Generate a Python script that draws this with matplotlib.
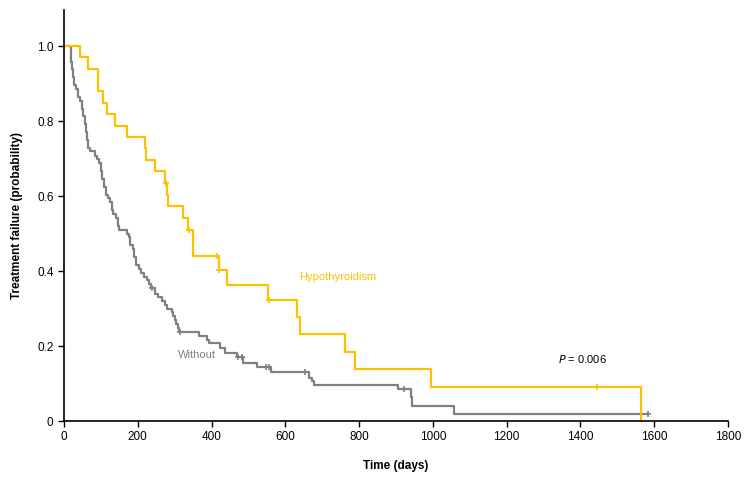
import numpy as np
import matplotlib
matplotlib.use("Agg")
import matplotlib.pyplot as plt

plt.rcParams["font.family"] = ["Liberation Sans", "DejaVu Sans"]

# ---- data ----
# Hypothyroidism group: event times (days) and survival level after each step
hypo_t = [0, 43, 64, 91, 107, 116, 138, 170, 220, 222, 247, 274, 279, 283,
          323, 335, 350, 419, 441, 553, 633, 640, 763, 790, 994, 1563]
hypo_s = [1.0, 0.970, 0.939, 0.879, 0.848, 0.818, 0.788, 0.758, 0.727, 0.697,
          0.667, 0.636, 0.604, 0.573, 0.541, 0.509, 0.441, 0.404, 0.363,
          0.323, 0.277, 0.231, 0.185, 0.139, 0.092, 0.0]
hypo_cens_t = [276, 338, 414, 421, 556, 1444]
hypo_cens_s = [0.636, 0.509, 0.441, 0.404, 0.323, 0.092]

# Without group
wo_t = [0, 18, 20, 22, 24, 28, 33, 38, 44, 48, 52, 56, 59, 62, 66, 70, 84,
        90, 96, 100, 104, 109, 113, 119, 124, 129, 134, 140, 146, 150, 170,
        175, 180, 186, 190, 195, 203, 210, 218, 225, 231, 235, 246, 256, 265,
        274, 280, 292, 296, 300, 305, 310, 313, 365, 388, 393, 423, 436, 470,
        486, 522, 561, 665, 671, 678, 906, 940, 944, 1057]
wo_s = [1.0, 0.979, 0.958, 0.938, 0.917, 0.896, 0.885, 0.865, 0.854, 0.833,
        0.813, 0.792, 0.771, 0.750, 0.729, 0.719, 0.708, 0.698, 0.688, 0.667,
        0.646, 0.625, 0.604, 0.594, 0.583, 0.563, 0.552, 0.542, 0.521, 0.510,
        0.500, 0.490, 0.469, 0.458, 0.438, 0.417, 0.406, 0.396, 0.385, 0.375,
        0.365, 0.354, 0.340, 0.331, 0.321, 0.310, 0.300, 0.290, 0.279, 0.269,
        0.259, 0.248, 0.238, 0.228, 0.217, 0.207, 0.194, 0.181, 0.170, 0.156,
        0.145, 0.130, 0.115, 0.107, 0.096, 0.085, 0.063, 0.041, 0.020]
wo_end = 1584
wo_cens_t = [239, 314, 472, 482, 548, 556, 653, 922, 1584]
wo_cens_s = [0.354, 0.238, 0.170, 0.170, 0.145, 0.145, 0.130, 0.085, 0.020]

YELLOW = "#FFC000"
GRAY = "#808080"

fig = plt.figure(figsize=(7.5, 4.78), dpi=100)
ax = fig.add_axes([0.0853, 0.1192, 0.8854, 0.8598])

ax.step(wo_t + [wo_end], wo_s + [wo_s[-1]], where="post", color=GRAY, lw=1.6)
ax.plot(wo_cens_t, wo_cens_s, ls="none", marker="+", ms=4, mew=1.2, color=GRAY)

ax.step(hypo_t, hypo_s, where="post", color=YELLOW, lw=1.6, clip_on=False)
ax.plot(hypo_cens_t, hypo_cens_s, ls="none", marker="+", ms=4, mew=1.2, color=YELLOW)

ax.text(637, 0.384, "Hypothyroidism", color=YELLOW, fontsize=8, va="center")
ax.text(309, 0.176, "Without", color=GRAY, fontsize=8, va="center")
ax.text(1339, 0.165, r"$\it{P}$ = 0.006", color="black", fontsize=8, va="center")

ax.set_xlim(0, 1800)
ax.set_ylim(0, 1.096)
ax.set_xticks(np.arange(0, 1801, 200))
ax.set_yticks([0, 0.2, 0.4, 0.6, 0.8, 1.0])
ax.set_yticklabels(["0", "0.2", "0.4", "0.6", "0.8", "1.0"])
ax.tick_params(labelsize=8.5, length=4, width=1, direction="out")
for s in ["top", "right"]:
    ax.spines[s].set_visible(False)
for s in ["left", "bottom"]:
    ax.spines[s].set_linewidth(1.2)

ax.set_xlabel("Time (days)", fontsize=8.5, fontweight="bold", labelpad=12)
ax.set_ylabel("Treatment failure (probability)", fontsize=8.5, fontweight="bold", labelpad=10)

plt.savefig("out.png", dpi=100)
